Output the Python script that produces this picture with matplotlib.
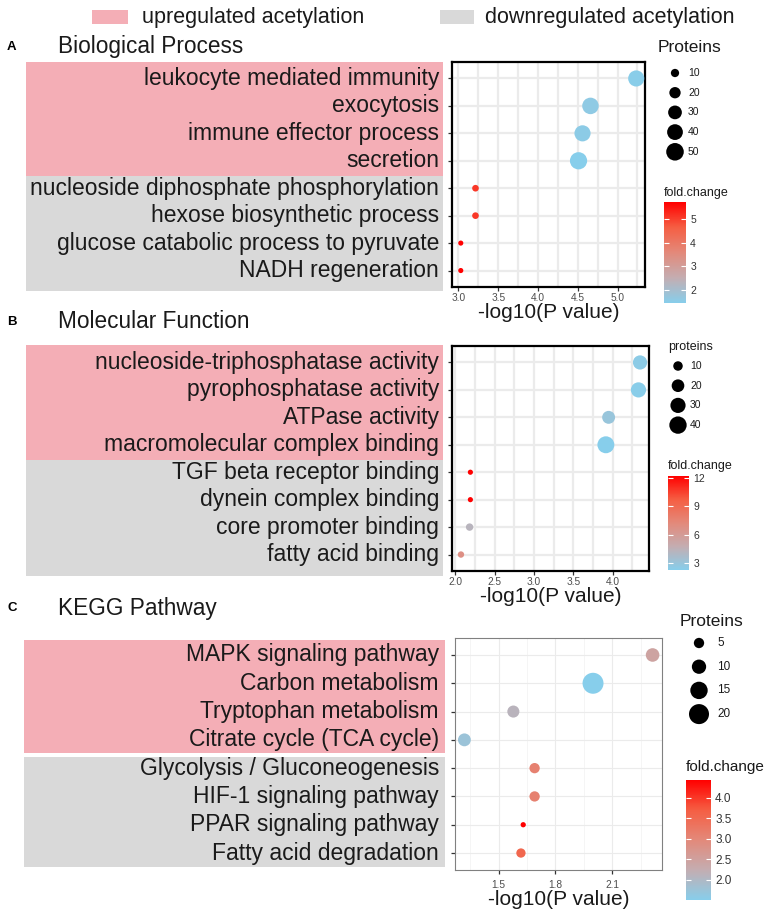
import numpy as np
import matplotlib
matplotlib.use('Agg')
import matplotlib.pyplot as plt
from matplotlib.colors import LinearSegmentedColormap, Normalize
from matplotlib.cm import ScalarMappable
from matplotlib.patches import Rectangle
from matplotlib.ticker import MultipleLocator, FormatStrFormatter

plt.rcParams['font.family'] = ['Liberation Sans', 'DejaVu Sans']

# Biological Process
bp_terms = ['leukocyte mediated immunity', 'exocytosis', 'immune effector process', 'secretion',
            'nucleoside diphosphate phosphorylation', 'hexose biosynthetic process',
            'glucose catabolic process to pyruvate', 'NADH regeneration']
bp_logp = [5.235, 4.66, 4.56, 4.51, 3.215, 3.215, 3.03, 3.03]
bp_proteins = [42, 44, 42, 48, 6, 6, 3, 3]
bp_fold = [1.5, 1.6, 1.55, 1.45, 5.1, 5.1, 5.72, 5.72]
bp_size_breaks = [10, 20, 30, 40, 50]
bp_fold_ticks = [2, 3, 4, 5]

# Molecular Function
mf_terms = ['nucleoside-triphosphatase activity', 'pyrophosphatase activity', 'ATPase activity',
            'macromolecular complex binding', 'TGF beta receptor binding', 'dynein complex binding',
            'core promoter binding', 'fatty acid binding']
mf_logp = [4.35, 4.33, 3.95, 3.915, 2.19, 2.19, 2.18, 2.07]
mf_proteins = [26, 30, 21, 38, 1, 1, 5, 3]
mf_fold = [2.5, 2.4, 3.0, 2.3, 12.2, 12.2, 4.3, 6.8]
mf_size_breaks = [10, 20, 30, 40]
mf_fold_ticks = [3, 6, 9, 12]

# KEGG Pathway
kegg_terms = ['MAPK signaling pathway', 'Carbon metabolism', 'Tryptophan metabolism',
              'Citrate cycle (TCA cycle)', 'Glycolysis / Gluconeogenesis', 'HIF-1 signaling pathway',
              'PPAR signaling pathway', 'Fatty acid degradation']
kegg_logp = [2.312, 1.998, 1.578, 1.32, 1.69, 1.69, 1.63, 1.618]
kegg_proteins = [9, 22, 7, 8, 5, 5, 1, 4]
kegg_fold = [2.45, 1.5, 2.1, 1.75, 3.1, 3.1, 4.44, 3.55]
kegg_size_breaks = [5, 10, 15, 20]
kegg_fold_ticks = [2.0, 2.5, 3.0, 3.5, 4.0]

PINK = '#F4AEB6'
GREY = '#D9D9D9'
W, H = 770, 915

# skyblue -> red, roughly as ggplot blends it (through Lab)
cmap = LinearSegmentedColormap.from_list(
    'fc', [(0, '#87CEEB'), (0.25, '#C4ADB1'), (0.5, '#E3897A'), (0.75, '#F55E43'), (1, '#FF0000')])


def box(x0, y0, x1, y1):
    return [x0 / W, 1 - y1 / H, (x1 - x0) / W, (y1 - y0) / H]


def diam(v, k, c):
    # marker diameter in points
    return k * np.sqrt(np.asarray(v, dtype=float) + c) * 0.72


panels = [
    dict(letter='A', title='Biological Process', ty=47, terms=bp_terms, x=bp_logp, n=bp_proteins,
         fold=bp_fold, breaks=bp_size_breaks, cticks=bp_fold_ticks, cfmt='%g',
         plot=(452, 62, 645, 287), up=(26, 62, 443, 176), down=(26, 176, 443, 291),
         step=0.5, k=2.45, c=1.38, bold=True, tickpad=1.5,
         ptitle=('Proteins', 658, 47, 12.5), circ=(675, 73, 19.7, 688, 7.5),
         ftitle=(664, 193, 9), cbar=(664, 202, 686, 303)),
    dict(letter='B', title='Molecular Function', ty=322, terms=mf_terms, x=mf_logp, n=mf_proteins,
         fold=mf_fold, breaks=mf_size_breaks, cticks=mf_fold_ticks, cfmt='%g',
         plot=(452, 346, 649, 571), up=(26, 345, 443, 460), down=(26, 460, 443, 576),
         step=0.5, k=2.65, c=2.81, bold=True, tickpad=1.5,
         ptitle=('proteins', 668, 347, 9), circ=(678, 366, 19.7, 690, 7.5),
         ftitle=(668, 466, 9), cbar=(668, 476, 689, 570)),
    dict(letter='C', title='KEGG Pathway', ty=608, terms=kegg_terms, x=kegg_logp, n=kegg_proteins,
         fold=kegg_fold, breaks=kegg_size_breaks, cticks=kegg_fold_ticks, cfmt='%.1f',
         plot=(455, 638, 662, 870), up=(24, 640, 445, 753), down=(24, 757, 445, 867),
         step=0.3, k=4.43, c=0.41, bold=False, tickpad=4,
         ptitle=('Proteins', 680, 622, 12.5), circ=(699, 643, 23.7, 717, 8.5),
         ftitle=(686, 767, 11), cbar=(686, 780, 711, 900)),
]

fig = plt.figure(figsize=(W / 100, H / 100), dpi=100)
ov = fig.add_axes([0, 0, 1, 1])
ov.set_xlim(0, W)
ov.set_ylim(H, 0)
ov.axis('off')

# top legend
ov.add_patch(Rectangle((92, 10), 36, 14, color=PINK, lw=0))
ov.text(142, 17, 'upregulated acetylation', fontsize=15.5, va='center', color='#1a1a1a')
ov.add_patch(Rectangle((440, 10), 34, 14, color=GREY, lw=0))
ov.text(485, 17, 'downregulated acetylation', fontsize=15.5, va='center', color='#1a1a1a')

for p in panels:
    ov.text(7, p['ty'], p['letter'], fontsize=9.5, fontweight='bold', va='center')
    ov.text(58, p['ty'], p['title'], fontsize=16.3, va='center', color='#1a1a1a')

    for (x0, y0, x1, y1), col in [(p['up'], PINK), (p['down'], GREY)]:
        ov.add_patch(Rectangle((x0, y0), x1 - x0, y1 - y0, color=col, lw=0))

    ax = fig.add_axes(box(*p['plot']))
    nrow = len(p['terms'])
    ypos = np.arange(nrow, 0, -1)
    xs = np.asarray(p['x'])
    span = xs.max() - xs.min()
    ax.set_xlim(xs.min() - 0.05 * span, xs.max() + 0.05 * span)
    ax.set_ylim(0.4, nrow + 0.6)
    norm = Normalize(min(p['fold']), max(p['fold']))
    ax.scatter(xs, ypos, s=diam(p['n'], p['k'], p['c']) ** 2, c=p['fold'], cmap=cmap, norm=norm,
               linewidths=0, zorder=3)

    ax.xaxis.set_major_locator(MultipleLocator(p['step']))
    ax.xaxis.set_minor_locator(MultipleLocator(p['step'] / 2))
    ax.xaxis.set_major_formatter(FormatStrFormatter('%.1f'))
    ax.set_yticks(ypos)
    ax.set_yticklabels([])
    ax.set_axisbelow(True)
    if p['bold']:
        ax.grid(True, which='both', color='#EBEBEB', lw=1.6)
        for s in ax.spines.values():
            s.set_color('black')
            s.set_linewidth(1.6)
    else:
        ax.grid(True, which='major', color='#EBEBEB', lw=0.8)
        ax.grid(True, which='minor', axis='x', color='#F2F2F2', lw=0.5)
        for s in ax.spines.values():
            s.set_color('#808080')
            s.set_linewidth(0.8)
    ax.tick_params(which='minor', length=0)
    ax.tick_params(which='major', length=3, width=0.9, color='#333333', labelsize=7.3,
                   labelcolor='#4D4D4D', pad=p['tickpad'])
    ax.set_xlabel('-log10(P value)', fontsize=15, labelpad=0, color='#1a1a1a')

    # category labels, aligned with the rows of the dot plot
    for term, yv in zip(p['terms'], ypos):
        yp = ov.transData.inverted().transform(ax.transData.transform((0, yv)))[1]
        ov.text(439, yp, term, fontsize=16.5, ha='right', va='center', color='#1a1a1a')

    # size legend
    t, tx, tyy, tfs = p['ptitle']
    ov.text(tx, tyy, t, fontsize=tfs, va='center', color='#1a1a1a')
    cx, cy0, cstep, lx, lfs = p['circ']
    cys = cy0 + cstep * np.arange(len(p['breaks']))
    ov.scatter([cx] * len(p['breaks']), cys, s=diam(p['breaks'], p['k'], p['c']) ** 2,
               color='black', linewidths=0)
    for b, yv in zip(p['breaks'], cys):
        ov.text(lx, yv, str(b), fontsize=lfs, va='center', color='#1a1a1a')

    # colour bar
    fx, fy, ffs = p['ftitle']
    ov.text(fx, fy, 'fold.change', fontsize=ffs, va='center', color='#1a1a1a')
    cax = fig.add_axes(box(*p['cbar']))
    cb = fig.colorbar(ScalarMappable(norm=norm, cmap=cmap), cax=cax, ticks=p['cticks'],
                      format=FormatStrFormatter(p['cfmt']))
    cb.outline.set_visible(False)
    cax.tick_params(left=True, right=True, direction='in', length=3.5, width=0.8, color='white',
                    labelsize=lfs, labelcolor='#333333', pad=3)

fig.savefig('out.png', dpi=100)
